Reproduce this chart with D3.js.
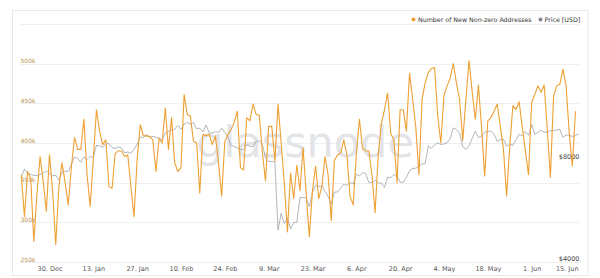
<!DOCTYPE html>
<html><head><meta charset="utf-8">
<script src="https://cdn.jsdelivr.net/npm/d3@7"></script>
<style>html,body{margin:0;padding:0;background:#fff;} svg{display:block;}</style>
</head><body><svg id="c" width="600" height="278"></svg>
<script>
// ---- data ----
const startDate = "2019-12-21";
// New non-zero addresses, thousands per day (from 21 Dec 2019)
const addresses = [
360,307,364,356,276,335,383,352,314,
385,340,272,345,375,350,322,370,407,392,392,430,360,320,
380,442,415,398,404,345,343,387,390,390,383,385,345,307,
379,423,409,409,408,404,364,406,400,444,392,432,375,364,
369,461,436,434,402,400,337,411,409,411,398,409,375,333,
402,411,417,426,440,369,366,432,428,449,436,435,388,352,
421,421,377,449,400,350,288,362,330,372,340,394,335,282,
340,371,330,345,383,360,302,378,385,387,404,385,333,322,
385,430,393,390,390,360,312,385,424,442,463,412,404,350,
442,442,415,488,455,420,360,455,476,489,494,495,434,400,
460,472,482,500,475,455,403,455,504,465,430,473,420,358,
428,432,440,449,421,392,333,395,447,442,452,420,390,360,
451,461,472,464,473,417,357,459,472,474,493,472,413,371,
440];
// BTC price, USD per day (from 21 Dec 2019)
const prices = [
7145,7512,7318,7255,7204,7202,7254,7317,7422,7293,7193,
7200,6985,7345,7410,7411,7769,8163,8079,7879,8166,8037,8192,8144,8828,8807,8723,8929,8942,8706,8658,8745,8681,8406,8445,8367,8596,8910,9358,9316,9508,9350,
9392,9345,9293,9180,9613,9729,9795,9865,10116,9856,10208,10326,10214,10312,9889,9934,9690,10141,9633,9608,9686,9663,9924,9650,9341,8820,8784,8672,8599,
8562,8869,8787,8755,9078,9122,8909,8108,7923,7909,7911,4970,5563,5200,5392,5014,5225,5238,6191,6198,6185,5830,6416,6734,6681,6716,6469,6242,5922,6429,6438,
6606,6793,6733,6868,6791,7271,7176,7334,7302,6865,6859,6971,6845,6842,6642,7116,7096,7257,7189,6881,6880,7117,7429,7550,7570,7679,7795,7807,8801,8658,
8864,8989,8897,8912,9003,9268,9951,9842,9593,8756,8601,8804,9269,9733,9328,9377,9670,9726,9729,9522,9081,9182,9209,8790,8906,8835,9181,9525,9439,9700,9461,
10167,9529,9656,9800,9665,9653,9759,9771,9794,9870,9321,9480,9475,9386,9450,9538];
const leftTicks = [250,300,350,400,450,500,550];
const leftLabels = ["250k","300k","350k","400k","450k","500k",""];
const rightTicks = [4000, 8000];
const rightLabels = ["$4000","$8000"];
const xTickDates = ["2019-12-30","2020-01-13","2020-01-27","2020-02-10","2020-02-24","2020-03-09","2020-03-23","2020-04-06","2020-04-20","2020-05-04","2020-05-18","2020-06-01","2020-06-15"];
const seriesNames = ["Number of New Non-zero Addresses","Price [USD]"];
const colors = {addr:"#eea033", price:"#80858f"};

// ---- build ----
const day = 86400000;
const t0 = Date.parse(startDate+"T00:00:00Z");
const addrData = addresses.map((v,i)=>({date:new Date(t0+i*day), v}));
const priceData = prices.map((v,i)=>({date:new Date(t0+i*day), v}));

const svg = d3.select("#c");
const font = "'DejaVu Sans', sans-serif";
svg.append("rect").attr("width",600).attr("height",278).attr("fill","#fff");
svg.append("rect").attr("x",12.5).attr("y",10.5).attr("width",575.5).attr("height",265)
  .attr("fill","none").attr("stroke","#e8e8e8");

const x = d3.scaleUtc().domain([new Date(t0), priceData[priceData.length-1].date]).range([21.3, 578.6]);
const yL = d3.scaleLinear().domain([250,550]).range([262,24]);
const yR = d3.scaleLog().domain([4000, 4000*Math.pow(2,238/102)]).range([262,24]);

// grid
const grid = svg.append("g");
leftTicks.forEach(t=>{
  grid.append("line").attr("x1",20).attr("x2",579).attr("y1",Math.round(yL(t))+0.5).attr("y2",Math.round(yL(t))+0.5)
   .attr("stroke","#efefef").attr("stroke-width",1);
});

// watermark
svg.append("text").attr("x",305).attr("y",157).attr("text-anchor","middle")
  .attr("font-family",font).attr("font-size",43).attr("fill","#e3e4e8").text("glassnode");

// left labels
leftTicks.forEach((t,i)=>{
  if(!leftLabels[i]) return;
  svg.append("text").attr("x",20.5).attr("y",yL(t)-0.5).attr("font-family",font).attr("font-size",6).attr("fill","#b9904f").text(leftLabels[i]);
});
// right labels
rightTicks.forEach((t,i)=>{
  svg.append("text").attr("x",579.5).attr("y",yR(t)-1).attr("text-anchor","end").attr("font-family",font).attr("font-size",6.5).attr("fill","#444").text(rightLabels[i]);
});

// x axis
const xa = svg.append("g").attr("transform","translate(0,262)")
  .call(d3.axisBottom(x).tickValues(xTickDates.map(s=>new Date(s+"T00:00:00Z"))).tickSize(0).tickFormat(d3.utcFormat("%-d. %b")));
xa.select(".domain").remove();
xa.selectAll("text").attr("font-family",font).attr("font-size",6.5).attr("fill","#555").attr("dy",0).attr("y",9);
const lastTxt = xa.selectAll(".tick text").filter((d,i,n)=>i===n.length-1);
lastTxt.attr("text-anchor","end").attr("dx",(d)=>578-x(d));

// lines
svg.append("path").datum(priceData).attr("fill","none").attr("stroke",colors.price).attr("stroke-width",0.6)
  .attr("d",d3.line().x(d=>x(d.date)).y(d=>yR(d.v)));
svg.append("path").datum(addrData).attr("fill","none").attr("stroke",colors.addr).attr("stroke-width",1.1).attr("stroke-linejoin","round")
  .attr("d",d3.line().x(d=>x(d.date)).y(d=>yL(d.v)));

// legend
const lg = svg.append("g").attr("font-family",font).attr("font-size",6.3).attr("fill","#333");
lg.append("circle").attr("cx",413.5).attr("cy",19.5).attr("r",2).attr("fill",colors.addr);
lg.append("text").attr("x",418).attr("y",21.8).text(seriesNames[0]);
lg.append("circle").attr("cx",540.5).attr("cy",19.5).attr("r",2).attr("fill",colors.price);
lg.append("text").attr("x",544.5).attr("y",21.8).text(seriesNames[1]);
</script></body></html>
